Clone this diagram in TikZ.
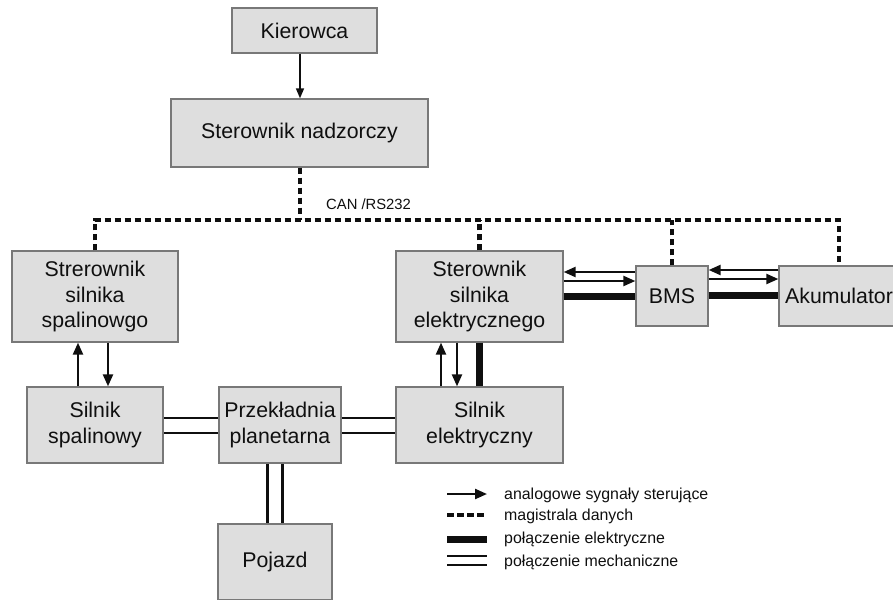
\documentclass[tikz,border=0pt]{standalone}
\usepackage{fontspec}
\setmainfont{Liberation Sans}
\usetikzlibrary{arrows.meta,backgrounds}
\definecolor{boxfill}{RGB}{222,222,222}
\definecolor{boxedge}{RGB}{120,120,120}
\definecolor{ink}{RGB}{15,15,15}
\begin{document}
\begin{tikzpicture}[x=1pt,y=-1pt,
  block/.style={draw=boxedge, line width=1.3pt, fill=boxfill, inner sep=0pt,
    align=center, text=ink, font=\fontsize{21.3}{25.8}\selectfont},
  sig/.style={draw=ink, line width=2.3pt, -{Triangle[length=12pt,width=10pt]}},
  thinsig/.style={draw=ink, line width=1.6pt, -{Triangle[length=10pt,width=8pt]}},
  bus/.style={draw=ink, line width=4.2pt, dash pattern=on 6.5pt off 3.5pt},
  power/.style={draw=ink, line width=7pt},
  mech/.style={draw=ink, double=white, line width=2.3pt, double distance=12.7pt},
  lgmech/.style={draw=ink, double=white, line width=2.3pt, double distance=6.7pt},
  lgtext/.style={anchor=west, inner sep=0pt, text=ink, font=\fontsize{15.9}{19}\selectfont}]

\useasboundingbox (0,0) rectangle (893,599);
\clip (0,0) rectangle (893,599);

% blocks
\node[block, minimum width=145pt, minimum height=45pt] (kier) at (304.5,30.5) {Kierowca};
\node[block, minimum width=257pt, minimum height=68pt] (nad) at (299.5,133) {Sterownik nadzorczy};
\node[block, minimum width=166pt, minimum height=91pt] (ssp) at (95,296.5) {Strerownik\\silnika\\spalinowgo};
\node[block, minimum width=136pt, minimum height=76pt] (sp) at (95,425) {Silnik\\spalinowy};
\node[block, minimum width=122pt, minimum height=76pt] (prz) at (280,425) {Przekładnia\\planetarna};
\node[block, minimum width=167pt, minimum height=91pt] (sel) at (479.5,296.5) {Sterownik\\silnika\\elektrycznego};
\node[block, minimum width=167pt, minimum height=76pt] (sil) at (479.5,425) {Silnik\\elektryczny};
\node[block, minimum width=72pt, minimum height=60pt] (bms) at (672,296) {BMS};
\node[block, minimum width=120pt, minimum height=60pt] (akum) at (839,296) {Akumulator};
\node[block, minimum width=114pt, minimum height=76pt] (poj) at (275,562) {Pojazd};

% driver input
\draw[thinsig] (kier.south -| 300,0) -- (nad.north -| 300,0);

% CAN / RS232 data bus
\coordinate (jTop) at (300,220);
\coordinate (jL) at (95,220);
\coordinate (jR) at (839,220);
\draw[bus] (nad.south -| jTop) -- (jTop);
\draw[bus] (ssp.north) -- (jL) -- (jR) -- (akum.north);
\draw[bus] (sel.north) -- (sel.north |- jTop);
\draw[bus] (bms.north) -- (bms.north |- jTop);
\node[anchor=west, inner sep=0pt, text=ink, font=\fontsize{14.8}{17}\selectfont] (can) at (326,204) {CAN /RS232};

% analogue control signals
\draw[sig] (sp.north -| 78,0) -- (ssp.south -| 78,0);
\draw[sig] (ssp.south -| 108,0) -- (sp.north -| 108,0);
\draw[sig] (sil.north -| 441,0) -- (sel.south -| 441,0);
\draw[sig] (sel.south -| 457,0) -- (sil.north -| 457,0);
\draw[sig] (bms.west |- 0,272) -- (sel.east |- 0,272);
\draw[sig] (sel.east |- 0,281) -- (bms.west |- 0,281);
\draw[sig] (akum.west |- 0,270) -- (bms.east |- 0,270);
\draw[sig] (bms.east |- 0,279) -- (akum.west |- 0,279);

% electrical connections
\draw[power] (sel.south) -- (sil.north);
\draw[power] (sel.east |- 0,296) -- (bms.west |- 0,296);
\draw[power] (bms.east |- 0,295) -- (akum.west |- 0,295);

% mechanical connections
\begin{scope}[on background layer]
\draw[mech] (sp.east |- 0,425.5) -- (prz.west |- 0,425.5);
\draw[mech] (prz.east |- 0,425.5) -- (sil.west |- 0,425.5);
\draw[mech] (poj.north |- prz.south) -- (poj.north);
\end{scope}

% legend
\coordinate (la1) at (447,494); \coordinate (la2) at (487,494);
\coordinate (lb1) at (447,515); \coordinate (lb2) at (487,515);
\coordinate (lc1) at (447,539); \coordinate (lc2) at (487,539);
\coordinate (ld1) at (447,560.5); \coordinate (ld2) at (487,560.5);
\draw[sig] (la1) -- (la2);
\draw[bus] (lb1) -- (lb2);
\draw[power] (lc1) -- (lc2);
\draw[lgmech] (ld1) -- (ld2);
\node[lgtext] (ta) at (504,495) {analogowe sygnały sterujące};
\node[lgtext] (tb) at (504,516) {magistrala danych};
\node[lgtext] (tc) at (504,539) {połączenie elektryczne};
\node[lgtext] (td) at (504,562) {połączenie mechaniczne};
\end{tikzpicture}
\end{document}
